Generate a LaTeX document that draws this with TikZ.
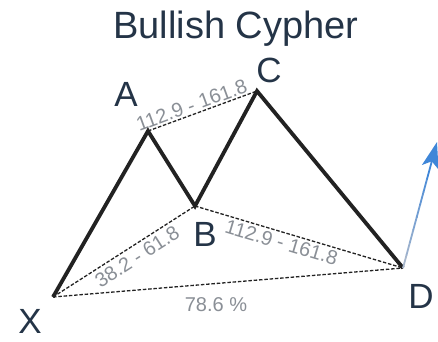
\documentclass[tikz,border=0pt]{standalone}
\usepackage{fontspec}
\setmainfont{Liberation Sans}
\usetikzlibrary{arrows.meta,calc}
\definecolor{navy}{HTML}{243447}
\definecolor{ratiogray}{HTML}{8A8F96}
\definecolor{zig}{HTML}{222222}
\definecolor{arrowblue}{HTML}{3F86D8}
\definecolor{arrowgray}{HTML}{B4BCCB}
\tikzset{
  zigzag/.style={line width=3.8pt, color=zig, line join=miter},
  ratioline/.style={line width=1.3pt, color=zig, dash pattern=on 3.5pt off 1.8pt},
  ratiotext/.style={font=\fontsize{20}{20}\selectfont, text=ratiogray, inner sep=1.5pt, sloped},
  ptlabel/.style={font=\fontsize{35}{35}\selectfont, text=navy, inner sep=0pt},
  titletext/.style={font=\fontsize{38}{38}\selectfont, text=navy, inner sep=0pt}
}
\begin{document}
\begin{tikzpicture}[x=1pt,y=-1pt]
\useasboundingbox (0,0) rectangle (438,341);
\fill[white] (0,0) rectangle (438,341);
\coordinate (X) at (53,297);
\coordinate (A) at (148,131);
\coordinate (B) at (195,206);
\coordinate (C) at (257,91);
\coordinate (D) at (403,268);
\coordinate (T) at (437,142);

\node[titletext, anchor=base] (title) at (236,38) {Bullish Cypher};

% ratio lines
\draw[ratioline] (A) -- node[ratiotext, pos=0.43, above] (rAC) {112.9 - 161.8} (C);
\draw[ratioline] (X) -- node[ratiotext, pos=0.55, below, inner sep=3.5pt] (rXB) {38.2 - 61.8} (B);
\draw[ratioline] (B) -- node[ratiotext, pos=0.43, below, inner sep=2.5pt] (rBD) {112.9 - 161.8} (D);
\draw[ratioline] (X) -- (D);
\node[ratiotext, sloped=false, inner sep=0pt] (rXD) at (216,305) {78.6 \%};

% zigzag
\draw[zigzag] (X) -- (A) -- (B) -- (C) -- (D);

% arrow
\draw[line width=1.8pt, color=arrowblue, -{Stealth[length=26pt,width=17pt,inset=6pt]}] ($(D)!0.7!(T)$) -- (T);
\foreach \i in {0,1,...,6}{
  \pgfmathsetmacro{\pc}{10+\i*12}
  \draw[line width=1.8pt, color=arrowblue!\pc!arrowgray] ($(D)!\i/10!(T)$) -- ($(D)!{(\i+1.05)/10}!(T)$);
}

% point labels
\node[ptlabel] (lA) at (126,94) {A};
\node[ptlabel] (lC) at (269,70) {C};
\node[ptlabel] (lB) at (205,234) {B};
\node[ptlabel] (lX) at (30,321) {X};
\node[ptlabel] (lD) at (421,296) {D};
\end{tikzpicture}
\end{document}
